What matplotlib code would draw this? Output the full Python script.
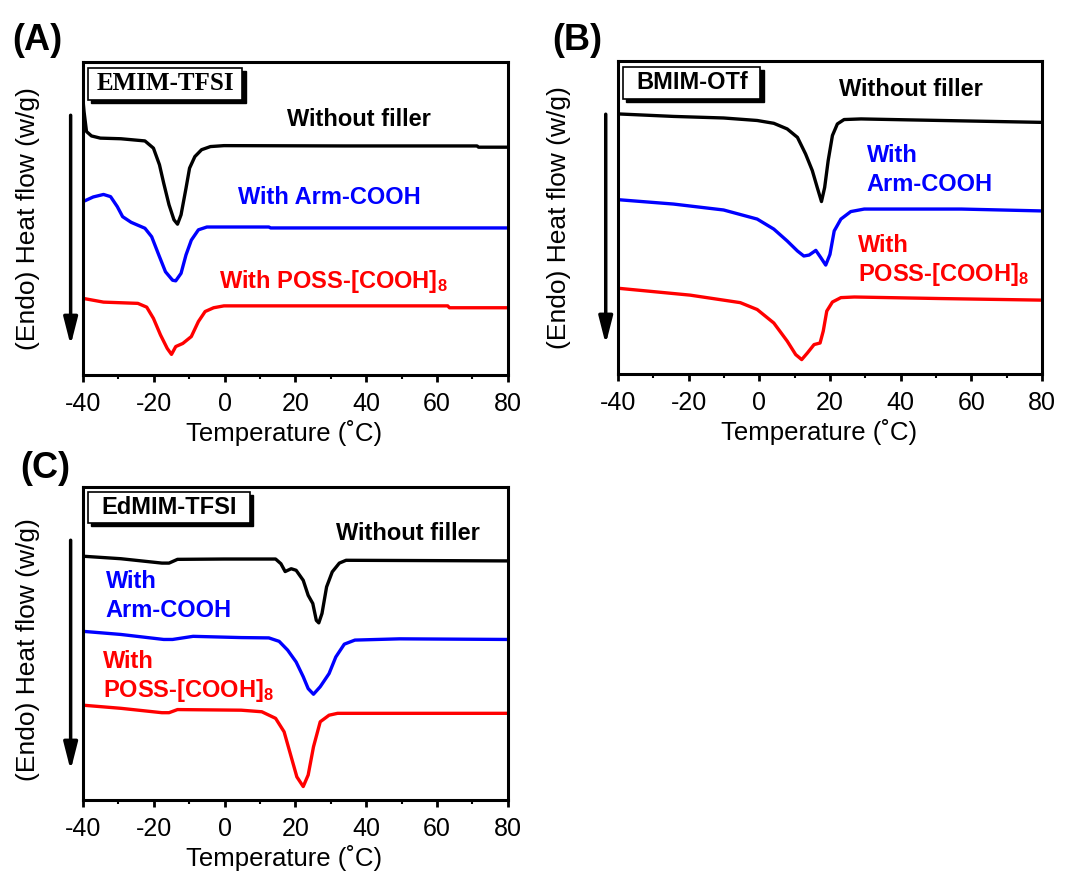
import matplotlib
matplotlib.use("Agg")
import matplotlib.pyplot as plt
from matplotlib.patches import Rectangle
from matplotlib.ticker import MultipleLocator

plt.rcParams['font.family'] = ['Liberation Sans', 'DejaVu Sans']
plt.rcParams['axes.unicode_minus'] = False
plt.rcParams['mathtext.default'] = 'regular'

# ----------  DSC traces (heat flow in % of panel height)  ----------

# (A) EMIM-TFSI
a_bare_T = [-40, -39.7, -39.0, -37.6, -35.1, -29.3, -22.5, -20.1, -18.4, -17.2, -15.7, -14.3, -13.3,
            -12.3, -10.9, -9.9, -8.4, -6.5, -4.0, -0.2, 33.8, 71.3, 71.7, 80]
a_bare_y = [88.0, 84.2, 77.8, 76.4, 75.7, 75.5, 74.8, 72.5, 67.2, 61.3, 54.4, 49.6, 48.2,
            51.2, 59.7, 66.1, 69.8, 72.0, 73.0, 73.3, 73.2, 73.2, 72.8, 72.8]
a_arm_T = [-40, -37.1, -34.2, -32.2, -30.3, -28.8, -26.4, -22.5, -20.6, -18.6, -16.7, -14.7, -13.8,
           -12.3, -10.9, -9.4, -7.4, -5.0, 12.5, 13.0, 80]
a_arm_y = [55.4, 56.9, 57.7, 57.0, 53.8, 50.6, 48.8, 46.9, 44.2, 38.4, 33.0, 30.3, 30.1,
           32.5, 38.4, 43.1, 46.4, 47.3, 47.3, 47.0, 47.0]
a_poss_T = [-40, -34.2, -24.5, -22.0, -20.1, -18.1, -16.2, -15.0, -13.8, -11.8, -9.4, -7.4, -5.5,
            -3.1, -0.2, 63.0, 63.5, 80]
a_poss_y = [24.5, 23.3, 22.9, 21.7, 18.1, 12.8, 8.5, 6.6, 9.1, 10.1, 12.3, 17.1, 20.3,
            21.5, 22.1, 22.1, 21.5, 21.5]

# (B) BMIM-OTf
b_bare_T = [-40, -24.3, -10.1, -0.6, 4.1, 7.9, 10.8, 13.1, 15.0, 16.4, 17.6, 18.5, 19.5, 20.7,
            22.1, 24.0, 28.8, 42.1, 80]
b_bare_y = [83.1, 82.3, 81.8, 81.0, 80.1, 78.3, 75.6, 70.3, 65.0, 59.6, 55.1, 59.6, 68.2, 76.2,
            79.9, 81.3, 81.5, 81.2, 80.4]
b_arm_T = [-40, -24.3, -10.1, -0.6, 4.1, 7.9, 10.8, 12.6, 14.1, 16.0, 17.4, 18.8, 20.0, 21.2,
           23.1, 25.9, 29.7, 57.2, 80]
b_arm_y = [55.7, 54.3, 52.4, 49.5, 46.3, 42.5, 39.3, 37.7, 38.0, 39.5, 37.2, 34.8, 38.2, 45.7,
           49.5, 51.9, 52.7, 52.7, 52.1]
b_poss_T = [-40, -19.6, -5.4, -0.6, 4.1, 7.9, 10.3, 12.0, 13.6, 15.5, 17.2, 18.1, 19.1, 20.7,
            23.1, 26.9, 51.5, 80]
b_poss_y = [27.4, 25.2, 22.8, 20.6, 16.3, 10.5, 6.2, 4.6, 6.7, 9.4, 9.9, 13.7, 20.1, 23.0,
            24.4, 24.6, 24.1, 23.6]

# (C) EdMIM-TFSI
c_bare_T = [-40, -29.3, -17.7, -15.7, -13.3, -0.2, 14.4, 15.9, 17.1, 18.8, 20.2, 22.2, 23.6, 24.9,
            25.9, 26.6, 27.5, 28.8, 30.4, 32.4, 34.3, 80]
c_bare_y = [77.9, 77.1, 75.7, 75.7, 76.9, 77.0, 77.0, 75.5, 73.0, 73.9, 73.4, 70.2, 65.4, 62.8,
            57.4, 56.6, 59.6, 68.1, 72.9, 75.7, 76.6, 76.4]
c_arm_T = [-40, -29.3, -17.2, -14.7, -8.9, 4.7, 12.5, 15.4, 17.8, 20.2, 22.2, 23.6, 25.1, 27.0,
           29.5, 31.4, 33.8, 36.8, 49.4, 80]
c_arm_y = [53.9, 52.9, 51.3, 51.3, 52.3, 51.9, 51.8, 50.7, 47.9, 44.1, 39.4, 35.6, 33.8, 36.2,
           40.4, 45.7, 49.8, 51.1, 51.5, 51.3]
c_poss_T = [-40, -29.3, -17.7, -15.7, -13.3, 4.7, 10.5, 14.4, 16.8, 18.8, 20.4, 22.2, 23.6, 25.1,
            27.0, 29.5, 31.9, 80]
c_poss_y = [30.3, 29.3, 27.9, 27.9, 28.9, 28.7, 28.2, 26.1, 21.8, 13.8, 7.4, 4.3, 8.0, 17.0,
            25.0, 27.1, 27.7, 27.7]

x_ticks = [-40, -20, 0, 20, 40, 60, 80]

# ----------  Plotting  ----------

fig = plt.figure(figsize=(10.65, 8.73), dpi=100)
ax_a = fig.add_axes([0.0779, 0.5704, 0.399, 0.3585])
ax_b = fig.add_axes([0.5803, 0.5716, 0.398, 0.3585])
ax_c = fig.add_axes([0.0779, 0.0836, 0.399, 0.3585])

panels = [
    (ax_a, (a_bare_T, a_bare_y), (a_arm_T, a_arm_y), (a_poss_T, a_poss_y)),
    (ax_b, (b_bare_T, b_bare_y), (b_arm_T, b_arm_y), (b_poss_T, b_poss_y)),
    (ax_c, (c_bare_T, c_bare_y), (c_arm_T, c_arm_y), (c_poss_T, c_poss_y)),
]

for ax, bare, arm, poss in panels:
    ax.plot(*bare, color='black', lw=2.4, solid_joinstyle='round')
    ax.plot(*arm, color='#0000ff', lw=2.4, solid_joinstyle='round')
    ax.plot(*poss, color='#ff0000', lw=2.4, solid_joinstyle='round')
    ax.set_xlim(-40, 80)
    ax.set_ylim(0, 100)
    ax.set_xticks(x_ticks)
    ax.xaxis.set_minor_locator(MultipleLocator(10))
    ax.set_yticks([])
    ax.tick_params(axis='x', which='major', direction='out', length=5, width=2,
                   labelsize=18, pad=7, top=False)
    ax.tick_params(axis='x', which='minor', direction='out', length=3, width=1.5, top=False)
    for s in ax.spines.values():
        s.set_linewidth(2.2)
    ax.set_xlabel('Temperature (˚C)', fontsize=18.5)
    ax.xaxis.set_label_coords(0.474, -0.145)
    ax.set_ylabel('(Endo) Heat flow (w/g)', fontsize=19)
    # downward "endo" arrow next to the y axis
    ax.annotate('', xy=(-0.029, 0.095), xytext=(-0.029, 0.83), xycoords='axes fraction',
                arrowprops=dict(arrowstyle='-|>,head_length=0.55,head_width=0.14', lw=2.5,
                                color='black', mutation_scale=30, shrinkA=0, shrinkB=0),
                annotation_clip=False)

ax_a.yaxis.set_label_coords(-0.101, 0.5)
ax_b.yaxis.set_label_coords(-0.11, 0.5)
ax_c.yaxis.set_label_coords(-0.10, 0.48)

fig.text(12 / 1065, 1 - 40 / 873, '(A)', fontsize=26, fontweight='bold', va='center')
fig.text(552 / 1065, 1 - 40 / 873, '(B)', fontsize=26, fontweight='bold', va='center')
fig.text(20 / 1065, 1 - 468 / 873, '(C)', fontsize=26, fontweight='bold', va='center')


def label_box(ax, x0, y0, x1, y1, text, **kw):
    dx, dy = 0.008, 0.011
    ax.add_patch(Rectangle((x0 + dx, y0 - dy), x1 - x0, y1 - y0, transform=ax.transAxes,
                           facecolor='black', edgecolor='black', zorder=5))
    ax.add_patch(Rectangle((x0, y0), x1 - x0, y1 - y0, transform=ax.transAxes,
                           facecolor='white', edgecolor='black', lw=1.2, zorder=6))
    ax.text((x0 + x1) / 2, (y0 + y1) / 2, text, transform=ax.transAxes, ha='center',
            va='center', fontweight='bold', zorder=7, **kw)


label_box(ax_a, 0.012, 0.880, 0.375, 0.981, 'EMIM-TFSI', fontsize=18, family='Liberation Serif')
label_box(ax_b, 0.012, 0.879, 0.336, 0.981, 'BMIM-OTf', fontsize=17)
label_box(ax_c, 0.012, 0.885, 0.393, 0.984, 'EdMIM-TFSI', fontsize=17)

tk = dict(fontsize=17, fontweight='bold', va='center', ha='left')
ax_a.text(0.479, 0.816, 'Without filler', color='black', transform=ax_a.transAxes, **tk)
ax_a.text(0.364, 0.568, 'With Arm-COOH', color='#0000ff', transform=ax_a.transAxes, **tk)
ax_a.text(0.320, 0.2985, 'With POSS-[COOH]$_8$', color='#ff0000', transform=ax_a.transAxes, **tk)

ax_b.text(0.522, 0.908, 'Without filler', color='black', transform=ax_b.transAxes, **tk)
ax_b.text(0.587, 0.698, 'With', color='#0000ff', transform=ax_b.transAxes, **tk)
ax_b.text(0.587, 0.605, 'Arm-COOH', color='#0000ff', transform=ax_b.transAxes, **tk)
ax_b.text(0.565, 0.409, 'With', color='#ff0000', transform=ax_b.transAxes, **tk)
ax_b.text(0.565, 0.318, 'POSS-[COOH]$_8$', color='#ff0000', transform=ax_b.transAxes, **tk)

ax_c.text(0.595, 0.851, 'Without filler', color='black', transform=ax_c.transAxes, **tk)
ax_c.text(0.053, 0.697, 'With', color='#0000ff', transform=ax_c.transAxes, **tk)
ax_c.text(0.053, 0.604, 'Arm-COOH', color='#0000ff', transform=ax_c.transAxes, **tk)
ax_c.text(0.047, 0.441, 'With', color='#ff0000', transform=ax_c.transAxes, **tk)
ax_c.text(0.047, 0.351, 'POSS-[COOH]$_8$', color='#ff0000', transform=ax_c.transAxes, **tk)

fig.savefig('out.png', dpi=100)
